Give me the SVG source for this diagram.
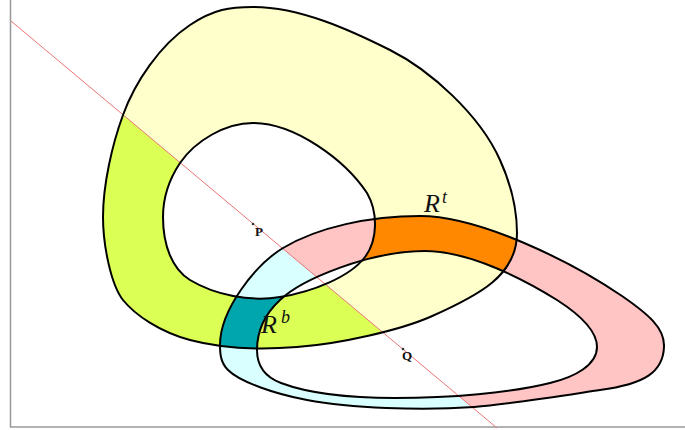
<svg xmlns="http://www.w3.org/2000/svg" xmlns:xlink="http://www.w3.org/1999/xlink" width="685" height="430" viewBox="0 0 685 430">
<style>
.outline{fill:none;stroke:#000;stroke-width:2}
.lbl{font-family:"Liberation Serif","Times New Roman",serif;font-style:italic;fill:#111}
.pt{font-family:"Liberation Serif","Times New Roman",serif;font-weight:bold;font-size:13px;fill:#111}
.frame{stroke:#999;stroke-width:1.5;fill:none}
</style>
<defs>
<path id="O1" d="M253,7 C300,7 350,30 390,50 C430,70 480,115 500,160 C510,182 517,205 517,233 C517,275 480,295 430,317 C400,330 340,344 297,347 C260,350 220,348 190,340 C160,332 135,315 123,300 C111,285 103,245 103,217 C103,185 112,145 123,115 C135,82 160,45 190,25 C214,9 230,7 253,7 Z"/>
<path id="H1" d="M253,123 C295,123 345,160 367,193 C378,212 378,240 365,257 C350,277 312,292 280,297 C250,302 215,295 190,280 C172,269 163,245 163,217 C163,195 170,178 180,163 C195,141 225,123 253,123 Z"/>
<path id="O2" d="M220,345 C220,310 255,265 283,248 C318,227 370,216 420,216 C480,216 572,262 622,296 C648,314 665,328 664,347 C663,372 645,384 600,390 C560,396 510,404 474,407 C420,411 350,408 307,400 C275,394 240,382 228,370 C221,363 220,355 220,345 Z"/>
<path id="H2" d="M257,350 C257,330 266,313 280,300 C302,279 370,251 425,251 C470,251 525,280 557,300 C582,316 597,332 597,347 C597,365 575,377 550,383 C510,393 450,398 395,398 C340,398 305,392 281,383 C265,377 257,365 257,350 Z"/>
<path id="A" fill-rule="evenodd" d="M253,7 C300,7 350,30 390,50 C430,70 480,115 500,160 C510,182 517,205 517,233 C517,275 480,295 430,317 C400,330 340,344 297,347 C260,350 220,348 190,340 C160,332 135,315 123,300 C111,285 103,245 103,217 C103,185 112,145 123,115 C135,82 160,45 190,25 C214,9 230,7 253,7 Z M253,123 C295,123 345,160 367,193 C378,212 378,240 365,257 C350,277 312,292 280,297 C250,302 215,295 190,280 C172,269 163,245 163,217 C163,195 170,178 180,163 C195,141 225,123 253,123 Z"/>
<path id="B" fill-rule="evenodd" d="M220,345 C220,310 255,265 283,248 C318,227 370,216 420,216 C480,216 572,262 622,296 C648,314 665,328 664,347 C663,372 645,384 600,390 C560,396 510,404 474,407 C420,411 350,408 307,400 C275,394 240,382 228,370 C221,363 220,355 220,345 Z M257,350 C257,330 266,313 280,300 C302,279 370,251 425,251 C470,251 525,280 557,300 C582,316 597,332 597,347 C597,365 575,377 550,383 C510,393 450,398 395,398 C340,398 305,392 281,383 C265,377 257,365 257,350 Z"/>
<clipPath id="cl"><polygon points="-200,-155.8 900,766 900,900 -200,900"/></clipPath>
<clipPath id="cr"><polygon points="-200,-155.8 900,766 900,-200 -200,-200"/></clipPath>
<clipPath id="cA"><path clip-rule="evenodd" d="M253,7 C300,7 350,30 390,50 C430,70 480,115 500,160 C510,182 517,205 517,233 C517,275 480,295 430,317 C400,330 340,344 297,347 C260,350 220,348 190,340 C160,332 135,315 123,300 C111,285 103,245 103,217 C103,185 112,145 123,115 C135,82 160,45 190,25 C214,9 230,7 253,7 Z M253,123 C295,123 345,160 367,193 C378,212 378,240 365,257 C350,277 312,292 280,297 C250,302 215,295 190,280 C172,269 163,245 163,217 C163,195 170,178 180,163 C195,141 225,123 253,123 Z"/></clipPath>
</defs>
<rect width="685" height="430" fill="#fff"/>
<g id="frame">
<path class="frame" d="M10.5,0 V427 H685"/>
</g>
<g id="regions">
<g clip-path="url(#cr)"><use xlink:href="#A" fill="#ffffcc"/><use xlink:href="#B" fill="#ffc4c4"/></g>
<g clip-path="url(#cl)"><use xlink:href="#A" fill="#dbff55"/><use xlink:href="#B" fill="#d9ffff"/></g>
<g clip-path="url(#cA)">
<g clip-path="url(#cr)"><use xlink:href="#B" fill="#ff8800"/></g>
<g clip-path="url(#cl)"><use xlink:href="#B" fill="#00a6ad"/></g>
</g>
</g>
<g id="connectors">
<line x1="11" y1="21" x2="497" y2="428" stroke="#e87474" stroke-width="1"/>
</g>
<g id="outlines">
<use xlink:href="#O1" class="outline"/>
<use xlink:href="#H1" class="outline"/>
<use xlink:href="#O2" class="outline"/>
<use xlink:href="#H2" class="outline"/>
</g>
<g id="labels">
<text class="lbl" x="424" y="212" font-size="26">R</text>
<text class="lbl" x="442" y="203" font-size="18">t</text>
<text class="lbl" x="261" y="333" font-size="26">R</text>
<text class="lbl" x="281" y="323" font-size="18">b</text>
</g>
<g id="P">
<circle cx="253" cy="224" r="1.3" fill="#333"/>
<text class="pt" x="255" y="236">P</text>
</g>
<g id="Q">
<circle cx="403" cy="349" r="1.3" fill="#333"/>
<text class="pt" x="402" y="360">Q</text>
</g>
</svg>
